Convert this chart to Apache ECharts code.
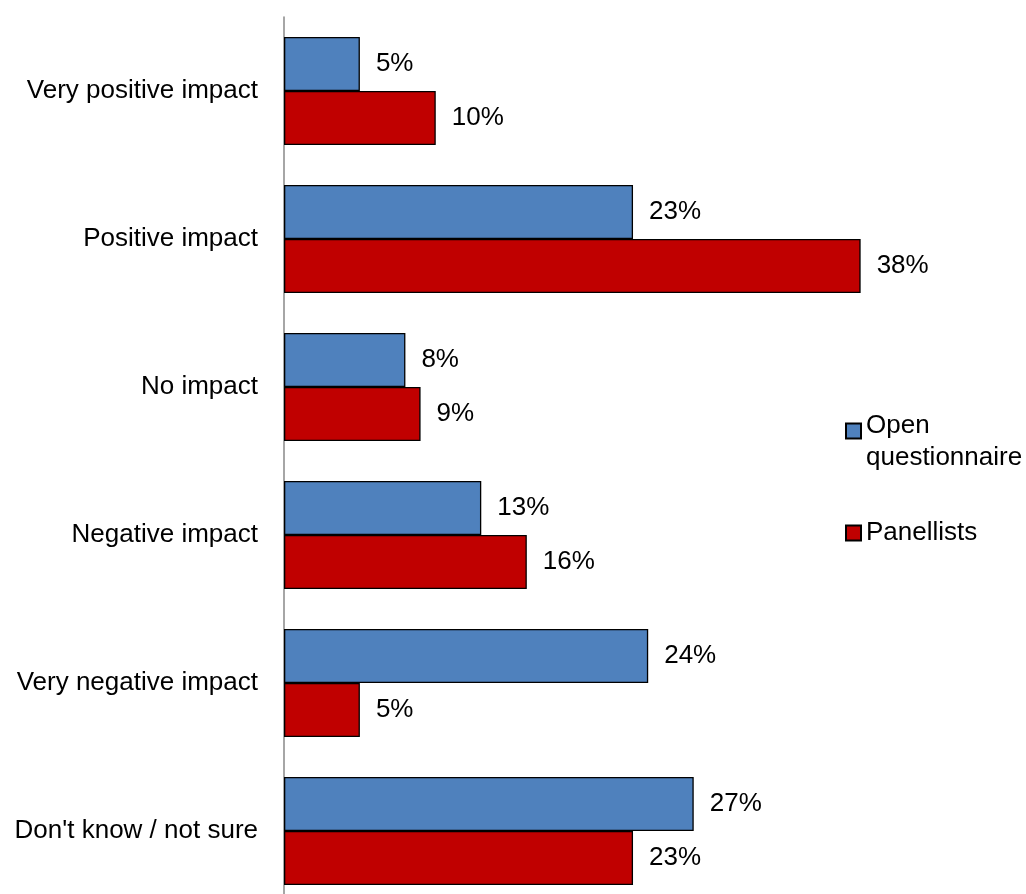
<!DOCTYPE html>
<html><head><meta charset="utf-8">
<script src="https://cdn.jsdelivr.net/npm/echarts@6/dist/echarts.min.js"></script>
<style>html,body{margin:0;padding:0;background:#fff}#c{width:1026px;height:894px}</style>
</head><body><div id="c"></div>
<script>
const categories = ['Very positive impact','Positive impact','No impact','Negative impact','Very negative impact',"Don't know / not sure"];
const openQuestionnaire = [5,23,8,13,24,27];
const panellists = [10,38,9,16,5,23];
const seriesNames = ['Open questionnaire','Panellists'];

const chart = echarts.init(document.getElementById('c'), null, {renderer:'canvas'});
const font = 'Liberation Sans, Arial, sans-serif';
const lbl = {show:true, position:'right', distance:16, formatter:'{c}%', color:'#000', fontSize:26, fontFamily:font};
chart.setOption({
  animation:false,
  backgroundColor:'#fff',
  grid:{left:284, top:17, width:607, height:888, containLabel:false, outerBoundsMode:'none'},
  xAxis:{type:'value', min:0, max:40, show:false},
  yAxis:{type:'category', data:categories, inverse:true,
    axisLine:{show:true, lineStyle:{color:'#888', width:1.5}},
    axisTick:{show:false},
    axisLabel:{color:'#000', fontSize:26, fontFamily:font, margin:26}},
  legend:[
    {data:[{name:seriesNames[0], icon:'path://M0,0 H15 V15 H0 Z M0,37 Z'}], left:840, top:405, orient:'vertical',
     itemWidth:15, itemHeight:37, itemGap:8,
     formatter:()=> 'Open\nquestionnaire',
     textStyle:{color:'#000', fontSize:26, fontFamily:font, lineHeight:32}},
    {data:[seriesNames[1]], left:840, top:512, orient:'vertical', icon:'rect', itemWidth:15, itemHeight:15, itemGap:8,
     textStyle:{color:'#000', fontSize:26, fontFamily:font, lineHeight:32}}
  ],
  series:[
    {name:seriesNames[0], type:'bar', data:openQuestionnaire, barCategoryGap:'27%', barGap:'0%',
     itemStyle:{color:'#4F81BD', borderColor:'#000', borderWidth:1.3}, label:lbl},
    {name:seriesNames[1], type:'bar', data:panellists, barCategoryGap:'27%', barGap:'0%',
     itemStyle:{color:'#C00000', borderColor:'#000', borderWidth:1.3}, label:lbl}
  ]
});
</script></body></html>
